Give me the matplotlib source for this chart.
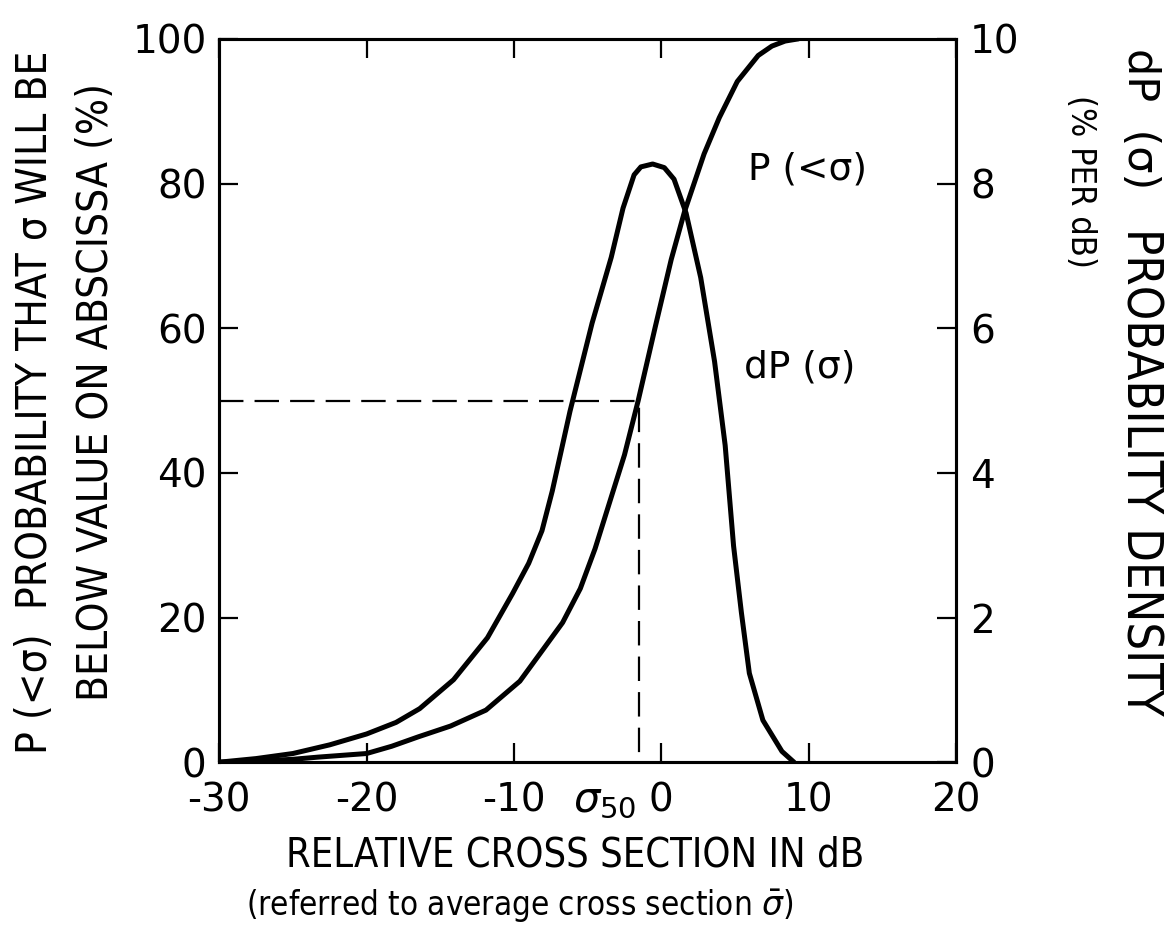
import numpy as np
import matplotlib
matplotlib.use("Agg")
import matplotlib.pyplot as plt
from matplotlib import font_manager

# Relative cross section (dB) and the cumulative probability P(<sigma) in %
cdf_x = [-30, -27.5, -25, -23.3, -20, -18.3, -16.5, -14.3, -11.9, -9.6, -7.95, -6.7,
         -5.5, -4.5, -3.5, -2.5, -1.57, -0.4, 0.67, 1.57, 2.9, 3.93, 5.15, 6.57,
         7.5, 8.4, 9.3]
cdf_p = [0, 0.15, 0.4, 0.7, 1.2, 2.2, 3.5, 5.0, 7.2, 11.2, 15.8, 19.3,
         24, 29.5, 36, 42.5, 50, 60.3, 69.5, 76.1, 84.1, 89.1, 94.1, 97.7,
         99.0, 99.7, 100]

# Probability density dP(sigma) in % per dB
pdf_x = [-30, -27.5, -25, -22.5, -20, -18, -16.4, -14.1, -11.8, -10.1, -9.0, -8.1,
         -7.4, -6.8, -6.2, -4.7, -3.4, -2.6, -1.85, -1.39, -0.59, 0.2, 0.86, 1.68,
         2.67, 3.61, 4.33, 4.9, 5.43, 5.97, 6.89, 8.18, 9.0]
pdf_d = [0, 0.05, 0.12, 0.24, 0.39, 0.55, 0.74, 1.14, 1.72, 2.33, 2.75, 3.2,
         3.75, 4.3, 4.85, 6.07, 6.98, 7.66, 8.12, 8.23, 8.27, 8.22, 8.06, 7.59,
         6.7, 5.54, 4.38, 2.99, 2.07, 1.23, 0.58, 0.15, 0]

sigma50 = -1.5
x_ticks = [-30, -20, -10, 0, 10, 20]
x_labels = ['-30', '-20', '-10', '0', '10', '20']
p_ticks = [0, 20, 40, 60, 80, 100]
d_ticks = [0, 2, 4, 6, 8, 10]

plt.rcParams['font.family'] = ['DejaVu Sans']

# condensed face for the axis titles, if one is installed
fonts = font_manager.fontManager.ttflist
if any(f.name == 'Liberation Sans Narrow' for f in fonts):
    cond = dict(family=['Liberation Sans Narrow', 'DejaVu Sans'])
    scale = 1.0
elif any(f.name == 'DejaVu Sans' and f.stretch == 'condensed' for f in fonts):
    cond = dict(family=['DejaVu Sans'], fontstretch='condensed')
    scale = 0.95
else:
    cond = dict(family=['DejaVu Sans'])
    scale = 0.85

fig = plt.figure(figsize=(11.66, 9.48), dpi=100)
ax = fig.add_axes([0.188, 0.196, 0.632, 0.763])
ax2 = ax.twinx()

ax.plot(cdf_x, cdf_p, color='black', lw=3.6, solid_capstyle='round',
        solid_joinstyle='round')
ax2.plot(pdf_x, pdf_d, color='black', lw=3.6, solid_capstyle='round',
         solid_joinstyle='round')

# dashed median construction
ax.plot([-30, sigma50, sigma50], [50, 50, 0], color='black', lw=1.6,
        dashes=(11, 5))

ax.set_xlim(-30, 20)
ax.set_ylim(0, 100)
ax2.set_ylim(0, 10)

ax.set_xticks(x_ticks)
ax.set_xticklabels(x_labels)
ax.set_yticks(p_ticks)
ax2.set_yticks(d_ticks)

ax.tick_params(axis='both', direction='in', length=14, width=1.6,
               labelsize=28, top=True)
ax.tick_params(axis='y', pad=9)
ax.tick_params(axis='x', pad=14)
ax2.tick_params(axis='y', direction='in', length=14, width=1.6,
                labelsize=28, pad=10)
for a in (ax, ax2):
    for s in a.spines.values():
        s.set_linewidth(2.2)

# sigma_50 label beside the 0 tick
ax.annotate(r'$\sigma_{50}$', xy=(sigma50, 0), xycoords=('data', 'axes fraction'),
            xytext=(-2, -12), textcoords='offset points', ha='right', va='top',
            fontsize=30)

# curve labels
ax.text(5.9, 82, 'P (<σ)', fontsize=27, va='center', ha='left')
ax.text(5.6, 54.5, 'dP (σ)', fontsize=27, va='center', ha='left')

# axis titles
fig.text(0.030, 0.576, 'P (<σ)  PROBABILITY THAT σ WILL BE',
         fontsize=32 * scale, rotation=90, ha='center', va='center', **cond)
fig.text(0.082, 0.586, 'BELOW VALUE ON ABSCISSA (%)', fontsize=32 * scale,
         rotation=90, ha='center', va='center', **cond)
fig.text(0.978, 0.949, 'dP  (σ)', fontsize=31, rotation=-90, ha='center',
         va='top')
fig.text(0.978, 0.759, 'PROBABILITY DENSITY', fontsize=37 * scale,
         rotation=-90, ha='center', va='top', **cond)
fig.text(0.927, 0.900, '(% PER dB)', fontsize=26 * scale, rotation=-90,
         ha='center', va='top', **cond)
fig.text(0.493, 0.098, 'RELATIVE CROSS SECTION IN dB', fontsize=30 * scale,
         ha='center', va='center', **cond)
fig.text(0.446, 0.045, r'(referred to average cross section $\bar{\sigma}$)',
         fontsize=25 * scale, ha='center', va='center', **cond)

fig.savefig('out.png', dpi=100)
